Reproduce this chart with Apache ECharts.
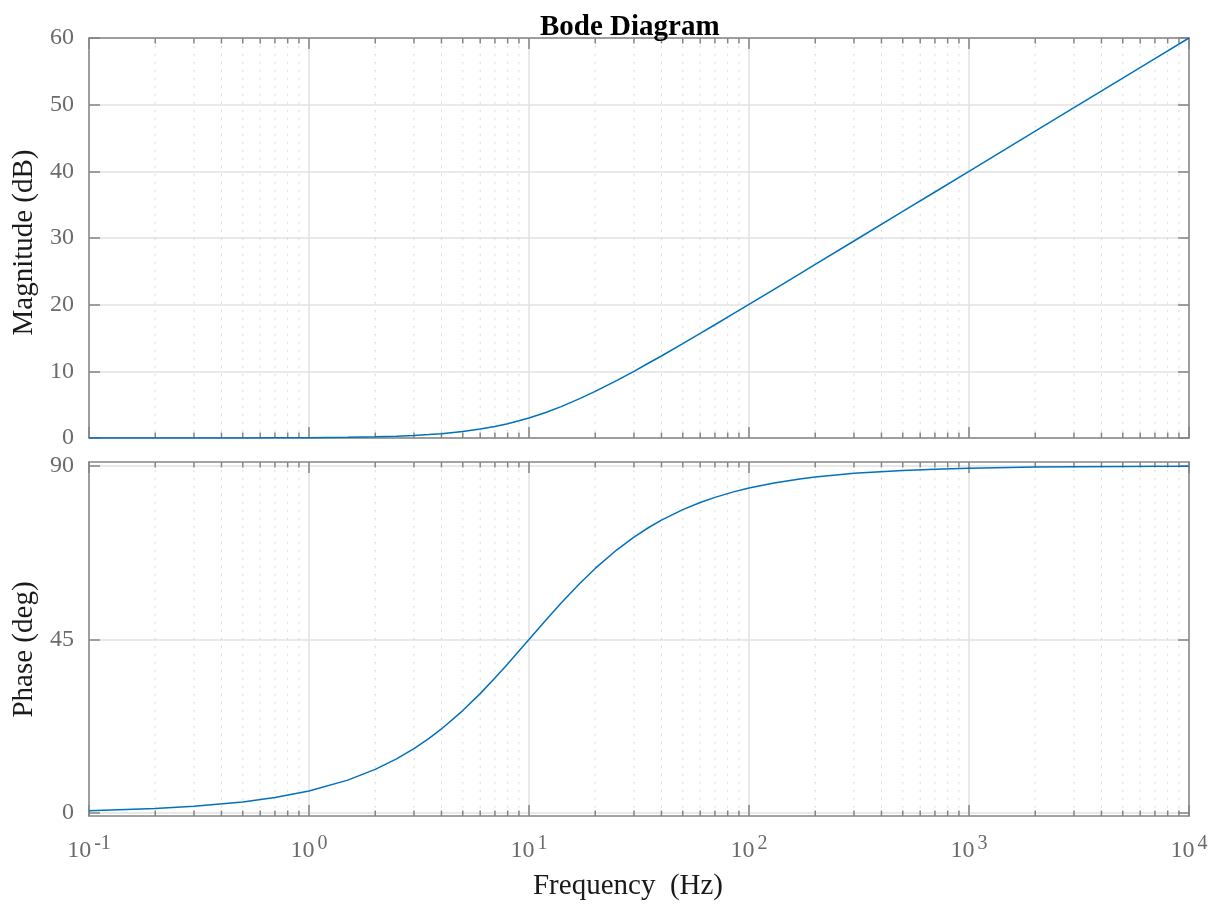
<!DOCTYPE html>
<html>
<head>
<meta charset="utf-8">
<title>Bode Diagram</title>
<script src="https://cdn.jsdelivr.net/npm/echarts@6.0.0/dist/echarts.min.js"></script>
<style>
  html, body { margin: 0; padding: 0; background: #fff; }
  #chart { width: 1217px; height: 905px; }
</style>
</head>
<body>
<div id="chart"></div>
<script>
// values
const freqHz = [0.1, 0.2, 0.3, 0.5, 0.7, 1, 1.5, 2, 2.5, 3, 3.5, 4, 5, 6, 7, 8, 9, 10, 11, 12, 14, 17, 20,
  25, 30, 35, 40, 50, 60, 70, 85, 100, 130, 170, 200, 300, 500, 700, 1000, 2000, 3000, 5000, 7000, 10000]
const magnitudeDb = [0, 0, 0, 0.01, 0.02, 0.04, 0.1, 0.17, 0.26, 0.37, 0.51, 0.65, 0.97, 1.34, 1.73, 2.15,
  2.58, 3.01, 3.45, 3.87, 4.71, 5.9, 6.99, 8.6, 10, 11.25, 12.3, 14.15, 15.68, 16.99, 18.65, 20.04, 22.3,
  24.62, 26.03, 29.55, 33.98, 36.9, 40, 46.02, 49.54, 53.98, 56.9, 60]
const phaseDeg = [0.57, 1.15, 1.72, 2.86, 4, 5.71, 8.53, 11.31, 14.04, 16.7, 19.29, 21.8, 26.57, 30.96,
  34.99, 38.66, 41.99, 45, 47.73, 50.19, 54.46, 59.53, 63.43, 68.2, 71.57, 74.05, 75.96, 78.69, 80.54,
  81.87, 83.29, 84.29, 85.6, 86.63, 87.14, 88.09, 88.85, 89.18, 89.43, 89.71, 89.81, 89.89, 89.92, 89.94]

// tick positions
const freqMin = 0.1
const freqMax = 10000
const minorSteps = [2, 3, 4, 5, 6, 7, 8, 9]
const decadeStarts = [0.1, 1, 10, 100, 1000]

const minorTicks = []
decadeStarts.forEach(d => {
  minorSteps.forEach(k => minorTicks.push([+(d * k).toPrecision(6), 0]))
})

const font = '"Liberation Serif", "DejaVu Serif", serif'
const axisColor = '#858585'
const labelColor = '#6b6b6b'
const gridColor = '#e2e2e2'
const lineColor = '#0072BD'

function linePoints(ys) {
  return freqHz.map((f, i) => [f, ys[i]])
}

function minorGrid(params, api) {
  const cs = params.coordSys
  const x = api.coord([api.value(0), api.value(1)])[0]
  const top = cs.y
  const bottom = cs.y + cs.height
  return {
    type: 'group',
    children: [
      { type: 'line', shape: { x1: x, y1: top, x2: x, y2: bottom },
        style: { stroke: '#cdcdcd', lineWidth: 1, lineDash: [1.5, 6.5] } },
      { type: 'line', shape: { x1: x, y1: bottom, x2: x, y2: bottom - 5.5 },
        style: { stroke: axisColor, lineWidth: 1.5 } },
      { type: 'line', shape: { x1: x, y1: top, x2: x, y2: top + 5.5 },
        style: { stroke: axisColor, lineWidth: 1.5 } }
    ]
  }
}

function freqAxis(gridIndex, position, opts) {
  return Object.assign({
    type: 'log',
    logBase: 10,
    gridIndex: gridIndex,
    position: position,
    min: freqMin,
    max: freqMax,
    interval: 1,
    axisLine: { show: true, onZero: false, lineStyle: { color: axisColor, width: 1.5 } },
    axisTick: { show: true, inside: true, length: 11, lineStyle: { color: axisColor, width: 1.5 } },
    axisLabel: { show: false },
    splitLine: { show: false }
  }, opts)
}

function valueAxis(gridIndex, position, opts) {
  return Object.assign({
    type: 'value',
    gridIndex: gridIndex,
    position: position,
    axisLine: { show: true, onZero: false, lineStyle: { color: axisColor, width: 1.5 } },
    axisTick: { show: true, inside: true, length: 11, lineStyle: { color: axisColor, width: 1.5 } },
    axisLabel: { show: false },
    splitLine: { show: false }
  }, opts)
}

const tickLabelStyle = { color: labelColor, fontFamily: font, fontSize: 24 }
const nameStyle = { color: '#1a1a1a', fontFamily: font, fontSize: 29 }

const options = {
  animation: false,
  backgroundColor: '#fff',
  title: {
    text: 'Bode Diagram',
    left: 535,
    top: 8,
    textStyle: { fontFamily: font, fontSize: 29, fontWeight: 'bold', color: '#000' }
  },
  grid: [
    { left: 89, right: 28, top: 38, height: 400 },
    { left: 89, right: 28, top: 462, height: 354 },
    { left: 89, right: 28, top: 466, height: 347 }
  ],
  xAxis: [
    freqAxis(0, 'bottom', { splitLine: { show: true, lineStyle: { color: gridColor, width: 1.5 } } }),
    freqAxis(0, 'top'),
    freqAxis(1, 'bottom', {
      splitLine: { show: true, lineStyle: { color: gridColor, width: 1.5 } },
      axisLabel: {
        show: true,
        margin: 23,
        formatter(val) {
          const e = Math.round(Math.log10(val))
          return '{b|10}{s|' + e + '}'
        },
        rich: {
          b: { color: labelColor, fontFamily: font, fontSize: 24, lineHeight: 24, verticalAlign: 'bottom' },
          s: { color: labelColor, fontFamily: font, fontSize: 20, lineHeight: 20, padding: [0, 0, 15, 3] }
        }
      },
      name: 'Frequency  (Hz)',
      nameLocation: 'middle',
      nameGap: 56,
      nameTextStyle: Object.assign({ padding: [0, 22, 0, 0] }, nameStyle)
    }),
    freqAxis(1, 'top'),
    freqAxis(2, 'bottom', { show: false })
  ],
  yAxis: [
    valueAxis(0, 'left', {
      min: 0, max: 60, interval: 10,
      axisLabel: Object.assign({ show: true, margin: 15 }, tickLabelStyle),
      splitLine: { show: true, lineStyle: { color: gridColor, width: 1.5 } },
      name: 'Magnitude (dB)', nameLocation: 'middle', nameRotate: 90, nameGap: 50,
      nameTextStyle: Object.assign({ padding: [0, 9, 0, 0] }, nameStyle)
    }),
    valueAxis(0, 'right', { min: 0, max: 60, interval: 10 }),
    // frame of the phase panel
    valueAxis(1, 'left', { min: 0, max: 1, axisTick: { show: false } }),
    valueAxis(1, 'right', { min: 0, max: 1, axisTick: { show: false } }),
    valueAxis(2, 'left', {
      min: 0, max: 90, interval: 45,
      axisLine: { show: false, onZero: false },
      axisLabel: Object.assign({ show: true, margin: 15 }, tickLabelStyle),
      splitLine: { show: true, lineStyle: { color: gridColor, width: 1.5 } },
      name: 'Phase (deg)', nameLocation: 'middle', nameRotate: 90, nameGap: 50,
      nameTextStyle: Object.assign({ padding: [0, 20, 0, 0] }, nameStyle)
    }),
    valueAxis(2, 'right', {
      min: 0, max: 90, interval: 45,
      axisLine: { show: false, onZero: false }
    })
  ],
  series: [
    {
      type: 'custom', xAxisIndex: 0, yAxisIndex: 0, z: 1, silent: true,
      renderItem: minorGrid, data: minorTicks
    },
    {
      type: 'custom', xAxisIndex: 2, yAxisIndex: 2, z: 1, silent: true,
      renderItem: minorGrid, data: minorTicks
    },
    {
      name: 'Magnitude', type: 'line', xAxisIndex: 0, yAxisIndex: 0, z: 3,
      showSymbol: false,
      lineStyle: { color: lineColor, width: 1.5 },
      data: linePoints(magnitudeDb)
    },
    {
      name: 'Phase', type: 'line', xAxisIndex: 4, yAxisIndex: 4, z: 3,
      showSymbol: false,
      lineStyle: { color: lineColor, width: 1.5 },
      data: linePoints(phaseDeg)
    }
  ]
}

const chart = echarts.init(document.getElementById('chart'))
chart.setOption(options)
window.addEventListener('resize', chart.resize)
</script>
</body>
</html>
